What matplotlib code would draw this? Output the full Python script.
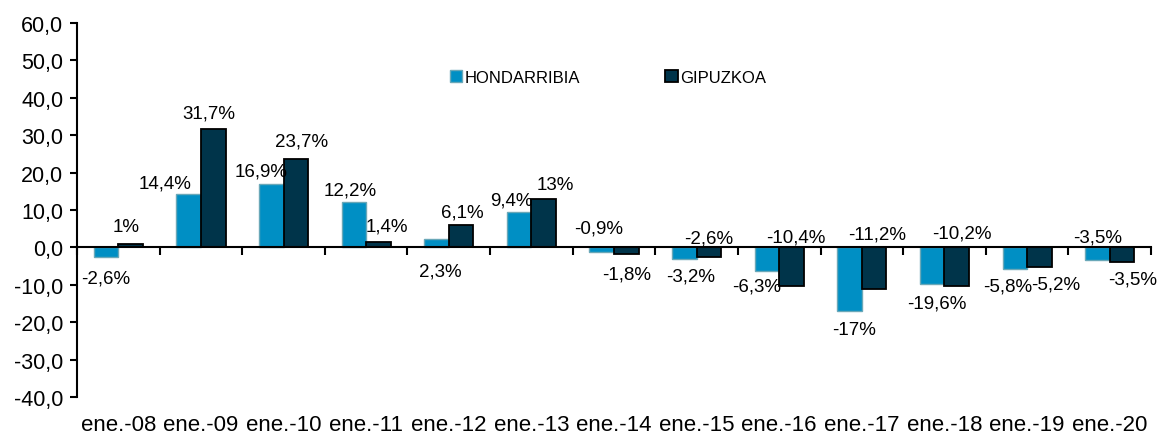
import matplotlib
matplotlib.use('Agg')
import matplotlib.pyplot as plt
import numpy as np

plt.rcParams['font.family'] = ['Liberation Sans', 'DejaVu Sans']

categorias = ['ene.-08', 'ene.-09', 'ene.-10', 'ene.-11', 'ene.-12', 'ene.-13', 'ene.-14',
              'ene.-15', 'ene.-16', 'ene.-17', 'ene.-18', 'ene.-19', 'ene.-20']
# alturas de las barras
hondarribia = [-2.6, 14.4, 16.9, 12.2, 2.3, 9.4, -1.1, -3.2, -6.3, -17.0, -9.9, -5.8, -3.5]
gipuzkoa = [1.0, 31.7, 23.7, 1.4, 6.1, 13.0, -1.8, -2.6, -10.4, -11.2, -10.2, -5.2, -3.9]
# etiquetas tal como aparecen
etiq_h = ['-2,6%', '14,4%', '16,9%', '12,2%', '2,3%', '9,4%', '-0,9%', '-3,2%', '-6,3%',
          '-17%', '-19,6%', '-5,8%', '-3,5%']
etiq_g = ['1%', '31,7%', '23,7%', '1,4%', '6,1%', '13%', '-1,8%', '-2,6%', '-10,4%',
          '-11,2%', '-10,2%', '-5,2%', '-3,5%']
# posicion de las etiquetas (desplazamiento x en categorias, y en unidades del eje)
pos_h = [(0.0, -8.3), (-0.29, 17.1), (-0.12, 20.4), (-0.05, 15.3), (0.04, -6.2),
         (-0.10, 12.6), (-0.04, 5.1), (0.07, -7.7), (-0.12, -10.2), (0.05, -22.0),
         (0.06, -14.8), (-0.09, -10.4), (0.0, 2.8)]
pos_g = [(-0.05, 5.6), (-0.05, 35.9), (0.07, 28.4), (0.10, 5.6), (0.02, 9.4),
         (0.14, 16.7), (0.0, -7.0), (0.0, 2.6), (0.05, 2.8), (0.04, 3.7),
         (0.06, 3.9), (0.2, -9.7), (0.13, -8.4)]

x = np.arange(len(categorias))
w = 0.297

fig = plt.figure(figsize=(11.57, 4.35), dpi=100)
ax = fig.add_axes([0.0666, 0.0851, 0.9282, 0.8597])

ax.bar(x - w / 2, hondarribia, w, color='#008FC4', edgecolor='#6AA8B8', linewidth=1,
       label='HONDARRIBIA', zorder=2)
ax.bar(x + w / 2, gipuzkoa, w, color='#00344A', edgecolor='black', linewidth=1.3,
       label='GIPUZKOA', zorder=2)

for i in range(len(x)):
    ax.text(x[i] - w / 2 + pos_h[i][0], pos_h[i][1], etiq_h[i], ha='center', va='center',
            fontsize=13.5, zorder=3)
    ax.text(x[i] + w / 2 + pos_g[i][0], pos_g[i][1], etiq_g[i], ha='center', va='center',
            fontsize=13.5, zorder=3)

ax.set_xlim(-0.5, len(x) - 0.5)
ax.set_ylim(-40, 60)
ax.set_yticks(np.arange(-40, 61, 10))
ax.set_yticklabels([f'{v:.1f}'.replace('.', ',') for v in np.arange(-40, 61, 10)])
ax.tick_params(axis='y', labelsize=15.5, length=5, width=1.5, pad=5)

ax.spines['top'].set_visible(False)
ax.spines['right'].set_visible(False)
ax.spines['left'].set_linewidth(1.5)
ax.spines['bottom'].set_position(('data', 0))
ax.spines['bottom'].set_linewidth(1.5)
ax.spines['bottom'].set_zorder(4)
ax.set_xticks(np.arange(-0.5, len(x), 1))
ax.set_xticklabels([])
ax.tick_params(axis='x', length=6, width=1.5, direction='out')

sec = ax.secondary_xaxis('bottom')
sec.set_xticks(x)
sec.set_xticklabels(categorias)
sec.tick_params(length=0, labelsize=16, pad=12)
sec.spines['bottom'].set_visible(False)

leg = ax.legend(loc='upper left', bbox_to_anchor=(0.333, 0.915), ncol=2, frameon=False,
                fontsize=12, handlelength=0.75, handleheight=0.75, handletextpad=0.15,
                columnspacing=5.1)

fig.savefig('out.png', dpi=100)
